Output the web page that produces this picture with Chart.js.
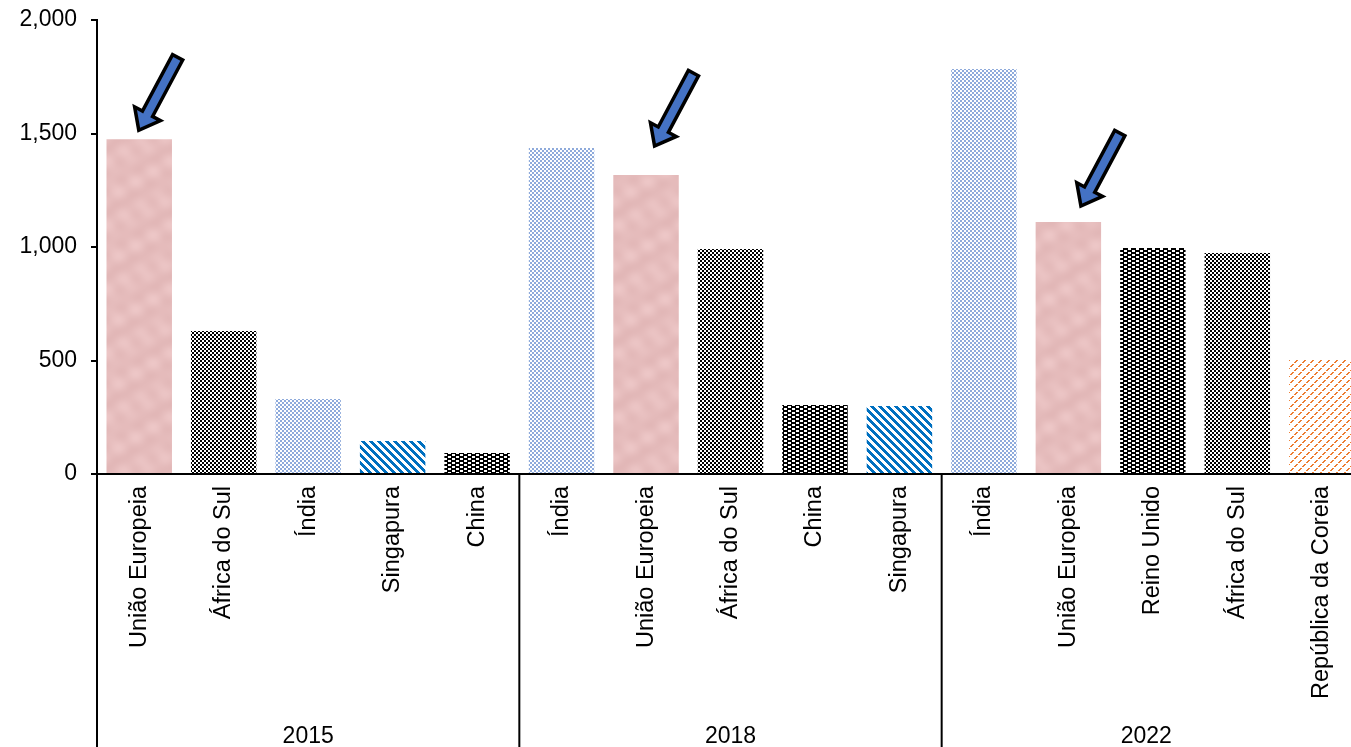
<!DOCTYPE html>
<html>
<head>
<meta charset="utf-8">
<script src="https://cdn.jsdelivr.net/npm/chart.js@4/dist/chart.umd.min.js"></script>
<style>
  html, body { margin: 0; padding: 0; background: #fff; }
  #wrap { width: 1351px; height: 747px; overflow: hidden; }
</style>
</head>
<body>
<div id="wrap"><canvas id="chart" width="1364" height="747"></canvas></div>
<script>
// dados
const categories = [
    'União Europeia', 'África do Sul', 'Índia', 'Singapura', 'China',
    'Índia', 'União Europeia', 'África do Sul', 'China', 'Singapura',
    'Índia', 'União Europeia', 'Reino Unido', 'África do Sul', 'República da Coreia'
];
const values = [1475, 630, 330, 145, 92, 1436, 1317, 991, 304, 300, 1784, 1110, 996, 974, 502];
const groups = ['2015', '2018', '2022'];
const groupSizes = [5, 5, 5];
const yTicks = [0, 500, 1000, 1500, 2000];

const FONT = '"Liberation Sans", Arial, sans-serif';
const VISIBLE_W = 1351; // o gráfico original é cortado na margem direita

// padrões de preenchimento
function makeTile(w, h, draw) {
    const c = document.createElement('canvas');
    c.width = w; c.height = h;
    const ctx = c.getContext('2d');
    draw(ctx);
    return document.createElement('canvas').getContext('2d').createPattern(c, 'repeat');
}

function checker(color, cell) {
    return makeTile(cell * 2, cell * 2, ctx => {
        ctx.fillStyle = '#fff';
        ctx.fillRect(0, 0, cell * 2, cell * 2);
        ctx.fillStyle = color;
        ctx.fillRect(0, 0, cell, cell);
        ctx.fillRect(cell, cell, cell, cell);
    });
}

function blackDots() {
    return makeTile(8, 4, ctx => {
        ctx.fillStyle = '#000';
        ctx.fillRect(0, 0, 8, 4);
        ctx.fillStyle = '#fff';
        ctx.fillRect(0, 0, 3, 2);
        ctx.fillRect(4, 2, 3, 2);
    });
}

const TAU = Math.PI * 2;
const patterns = {
    'União Europeia': makeTile(64, 64, ctx => {
        for (let y = 0; y < 64; y++) {
            for (let x = 0; x < 64; x++) {
                const n = Math.sin(TAU * x / 64 * 2) * Math.cos(TAU * y / 64 * 3) * 0.6
                        + Math.sin(TAU * (x + 2 * y) / 64) * 0.5
                        + Math.cos(TAU * (3 * x - y) / 64) * 0.3;
                const r = Math.round(230 - n * 5), g = Math.round(189 - n * 7), b = Math.round(189 - n * 7);
                ctx.fillStyle = `rgb(${r},${g},${b})`;
                ctx.fillRect(x, y, 1, 1);
            }
        }
    }),
    'África do Sul': checker('#000', 2),
    'Índia': checker('#8eaadb', 2),
    'Singapura': makeTile(8, 8, ctx => {
        ctx.fillStyle = '#fff';
        ctx.fillRect(0, 0, 8, 8);
        ctx.fillStyle = '#0070c0';
        for (let y = 0; y < 8; y++)
            for (let x = 0; x < 8; x++)
                if (((x - y) % 8 + 8) % 8 < 4) ctx.fillRect(x, y, 1, 1);
    }),
    'China': blackDots(),
    'Reino Unido': blackDots(),
    'República da Coreia': makeTile(8, 8, ctx => {
        ctx.fillStyle = '#fff';
        ctx.fillRect(0, 0, 8, 8);
        ctx.fillStyle = '#ed7d31';
        for (let y = 0; y < 8; y++)
            for (let x = 0; x < 8; x++)
                if ((x + y) % 8 < 2 && y % 4 !== 3) ctx.fillRect(x, y, 1, 1);
    })
};

// setas sobre as barras da União Europeia
const arrowPlugin = {
    id: 'arrows',
    afterDatasetsDraw(chart) {
        const { ctx, scales: { x, y } } = chart;
        const offsets = [[-1, 8], [8, 28], [12, 15]];
        let k = 0;
        categories.forEach((name, i) => {
            if (name !== 'União Europeia') return;
            const [dx, dy] = offsets[k++] || [0, 10];
            const tipX = x.getPixelForValue(i) + dx;
            const tipY = y.getPixelForValue(values[i]) - dy;
            drawArrow(ctx, tipX + 40, tipY - 75, tipX, tipY);
        });
    }
};

function drawArrow(ctx, x0, y0, x1, y1) {
    const ang = Math.atan2(y1 - y0, x1 - x0);
    const len = Math.hypot(x1 - x0, y1 - y0);
    const shaftW = 4, headW = 11, headL = 18;
    ctx.save();
    ctx.translate(x0, y0);
    ctx.rotate(ang);
    ctx.beginPath();
    ctx.moveTo(3, -shaftW);
    ctx.lineTo(len - headL, -shaftW);
    ctx.lineTo(len - headL, -headW);
    ctx.lineTo(len - 4, 0);
    ctx.lineTo(len - headL, headW);
    ctx.lineTo(len - headL, shaftW);
    ctx.lineTo(3, shaftW);
    ctx.closePath();
    ctx.lineJoin = 'miter';
    ctx.lineWidth = 7;
    ctx.strokeStyle = '#000';
    ctx.stroke();
    ctx.fillStyle = '#4472c4';
    ctx.fill();
    ctx.restore();
}

// rótulos de ano e divisórias sob o eixo x
const groupPlugin = {
    id: 'groups',
    afterDraw(chart) {
        const { ctx, chartArea, scales: { x } } = chart;
        const h = chart.height;
        let start = 0;
        ctx.save();
        ctx.strokeStyle = '#000';
        ctx.lineWidth = 2;
        ctx.fillStyle = '#000';
        ctx.font = '23px ' + FONT;
        ctx.textAlign = 'center';
        ctx.textBaseline = 'middle';
        groups.forEach((g, gi) => {
            const end = start + groupSizes[gi] - 1;
            const left = start === 0 ? chartArea.left
                : (x.getPixelForValue(start - 1) + x.getPixelForValue(start)) / 2;
            const right = end === categories.length - 1 ? Math.min(chartArea.right, VISIBLE_W)
                : (x.getPixelForValue(end) + x.getPixelForValue(end + 1)) / 2;
            ctx.beginPath();
            ctx.moveTo(left, chartArea.bottom);
            ctx.lineTo(left, h);
            ctx.stroke();
            ctx.fillText(g, (left + right) / 2, 737);
            start = end + 1;
        });
        ctx.restore();
    }
};

new Chart(document.getElementById('chart'), {
    type: 'bar',
    data: {
        labels: categories.map((c, i) => i),
        datasets: [{
            data: values,
            backgroundColor: categories.map(c => patterns[c]),
            borderWidth: 0,
            barPercentage: 0.775,
            categoryPercentage: 1
        }]
    },
    options: {
        responsive: false,
        animation: false,
        layout: { padding: { top: 20, right: 0, left: 0, bottom: 0 } },
        plugins: { legend: { display: false }, tooltip: { enabled: false } },
        scales: {
            x: {
                grid: { display: false, drawTicks: false },
                border: { display: true, color: '#000', width: 2 },
                ticks: {
                    autoSkip: false,
                    minRotation: 90,
                    maxRotation: 90,
                    padding: 12,
                    color: '#000',
                    font: { family: FONT, size: 23.5 },
                    callback: (v, i) => categories[i]
                },
                afterFit: s => { s.height = 273; s.paddingLeft = 0; s.paddingRight = 0; }
            },
            y: {
                min: 0,
                max: 2000,
                afterBuildTicks: s => { s.ticks = yTicks.map(v => ({ value: v })); },
                grid: { drawOnChartArea: false, drawTicks: true, tickLength: 6, color: '#000', lineWidth: 2 },
                border: { display: true, color: '#000', width: 2 },
                ticks: {
                    padding: 14,
                    color: '#000',
                    font: { family: FONT, size: 23 },
                    callback: v => v.toLocaleString('en-US')
                },
                afterFit: s => { s.width = 97; s.paddingTop = 0; s.paddingBottom = 0; }
            }
        }
    },
    plugins: [arrowPlugin, groupPlugin]
});
</script>
</body>
</html>
